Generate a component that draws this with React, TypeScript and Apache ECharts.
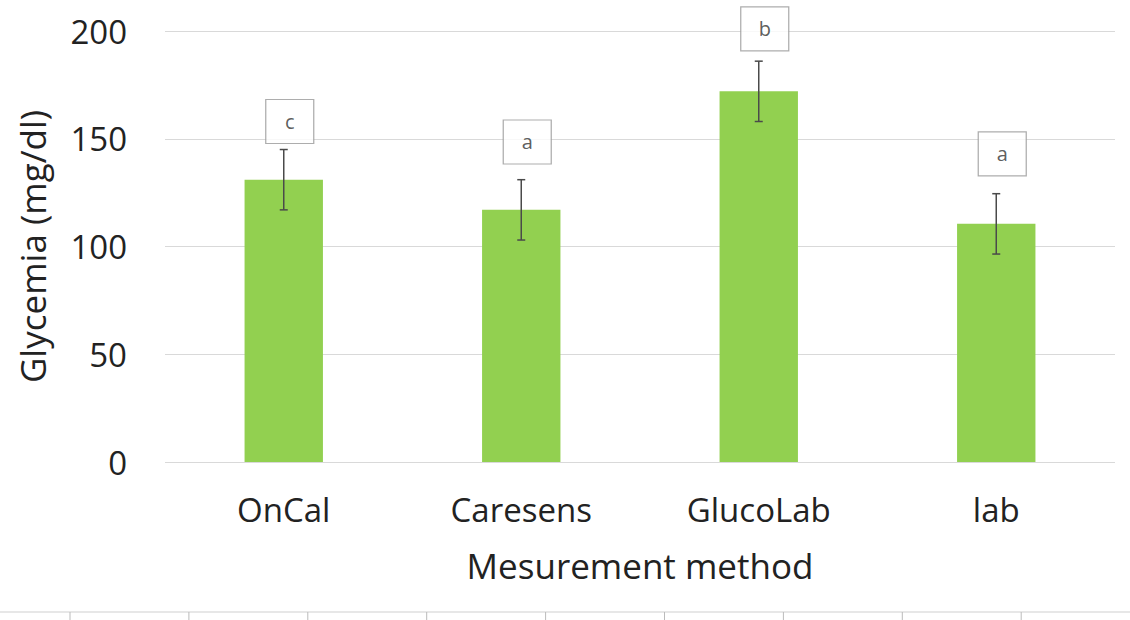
import React, { useEffect, useRef } from "react";
import * as echarts from "echarts";

const categories = ["OnCal", "Caresens", "GlucoLab", "lab"];
const means = [131, 117, 172, 110.5];
const errors = [14, 14, 14, 14];
const letters = ["c", "a", "b", "a"];
const letterY = [158, 148.5, 201, 143];
const yTicks = [0, 50, 100, 150, 200];

export default function App() {
  const ref = useRef<HTMLDivElement>(null);
  useEffect(() => {
    document.body.style.margin = "0";
    const chart = echarts.init(ref.current!, null, { renderer: "svg" });
    const font = "'Open Sans', sans-serif";
    const bottomTicks: any[] = [];
    for (let i = 0; i < 9; i++) {
      const x = 70 + i * 118.9;
      bottomTicks.push({
        type: "line",
        shape: { x1: x, y1: 612, x2: x, y2: 620 },
        style: { stroke: "#bbb", lineWidth: 1 },
      });
    }
    chart.setOption({
      animation: false,
      backgroundColor: "#fff",
      grid: { left: 165, right: 15, top: 31, bottom: 158 },
      xAxis: {
        type: "category",
        data: categories,
        axisLine: { show: false },
        axisTick: { show: false },
        axisLabel: { color: "#222", fontSize: 33, fontFamily: font, margin: 31 },
        name: "Mesurement method",
        nameLocation: "middle",
        nameGap: 86,
        nameTextStyle: { color: "#222", fontSize: 35, fontFamily: font },
      },
      yAxis: {
        type: "value",
        min: yTicks[0],
        max: yTicks[yTicks.length - 1],
        interval: yTicks[1] - yTicks[0],
        axisLine: { show: false },
        axisTick: { show: false },
        splitLine: { lineStyle: { color: "#d9d9d9", width: 1 } },
        axisLabel: { color: "#222", fontSize: 33, fontFamily: font, margin: 38 },
        name: "Glycemia (mg/dl)",
        nameLocation: "middle",
        nameGap: 115,
        nameTextStyle: { color: "#222", fontSize: 35, fontFamily: font },
      },
      series: [
        {
          type: "bar",
          data: means,
          barWidth: "33%",
          itemStyle: { color: "#92D050" },
          z: 2,
        },
        {
          type: "custom",
          z: 3,
          data: means.map((m, i) => [i, m - errors[i], m + errors[i]]),
          renderItem: (params: any, api: any) => {
            const i = api.value(0);
            const lo = api.coord([i, api.value(1)]);
            const hi = api.coord([i, api.value(2)]);
            const w = 4;
            const style = { stroke: "#4a4a4a", lineWidth: 1.5 };
            return {
              type: "group",
              children: [
                { type: "line", shape: { x1: lo[0], y1: lo[1], x2: hi[0], y2: hi[1] }, style },
                { type: "line", shape: { x1: hi[0] - w, y1: hi[1], x2: hi[0] + w, y2: hi[1] }, style },
                { type: "line", shape: { x1: lo[0] - w, y1: lo[1], x2: lo[0] + w, y2: lo[1] }, style },
              ],
            };
          },
        },
        {
          type: "scatter",
          z: 4,
          clip: false,
          data: letters.map((l, i) => ({ value: [i, letterY[i]], name: l })),
          symbol: "rect",
          symbolSize: [48, 44],
          symbolOffset: [6, 0],
          itemStyle: { color: "#fff", borderColor: "#999", borderWidth: 1.2 },
          label: {
            show: true,
            position: "inside",
            formatter: (p: any) => p.name,
            color: "#333",
            fontSize: 20,
            fontFamily: font,
          },
        },
      ],
      graphic: [
        {
          type: "line",
          shape: { x1: 0, y1: 612, x2: 1130, y2: 612 },
          style: { stroke: "#cfcfcf", lineWidth: 1 },
        },
        ...bottomTicks,
      ],
    });
    return () => chart.dispose();
  }, []);
  return <div ref={ref} style={{ width: 1130, height: 620 }} />;
}
